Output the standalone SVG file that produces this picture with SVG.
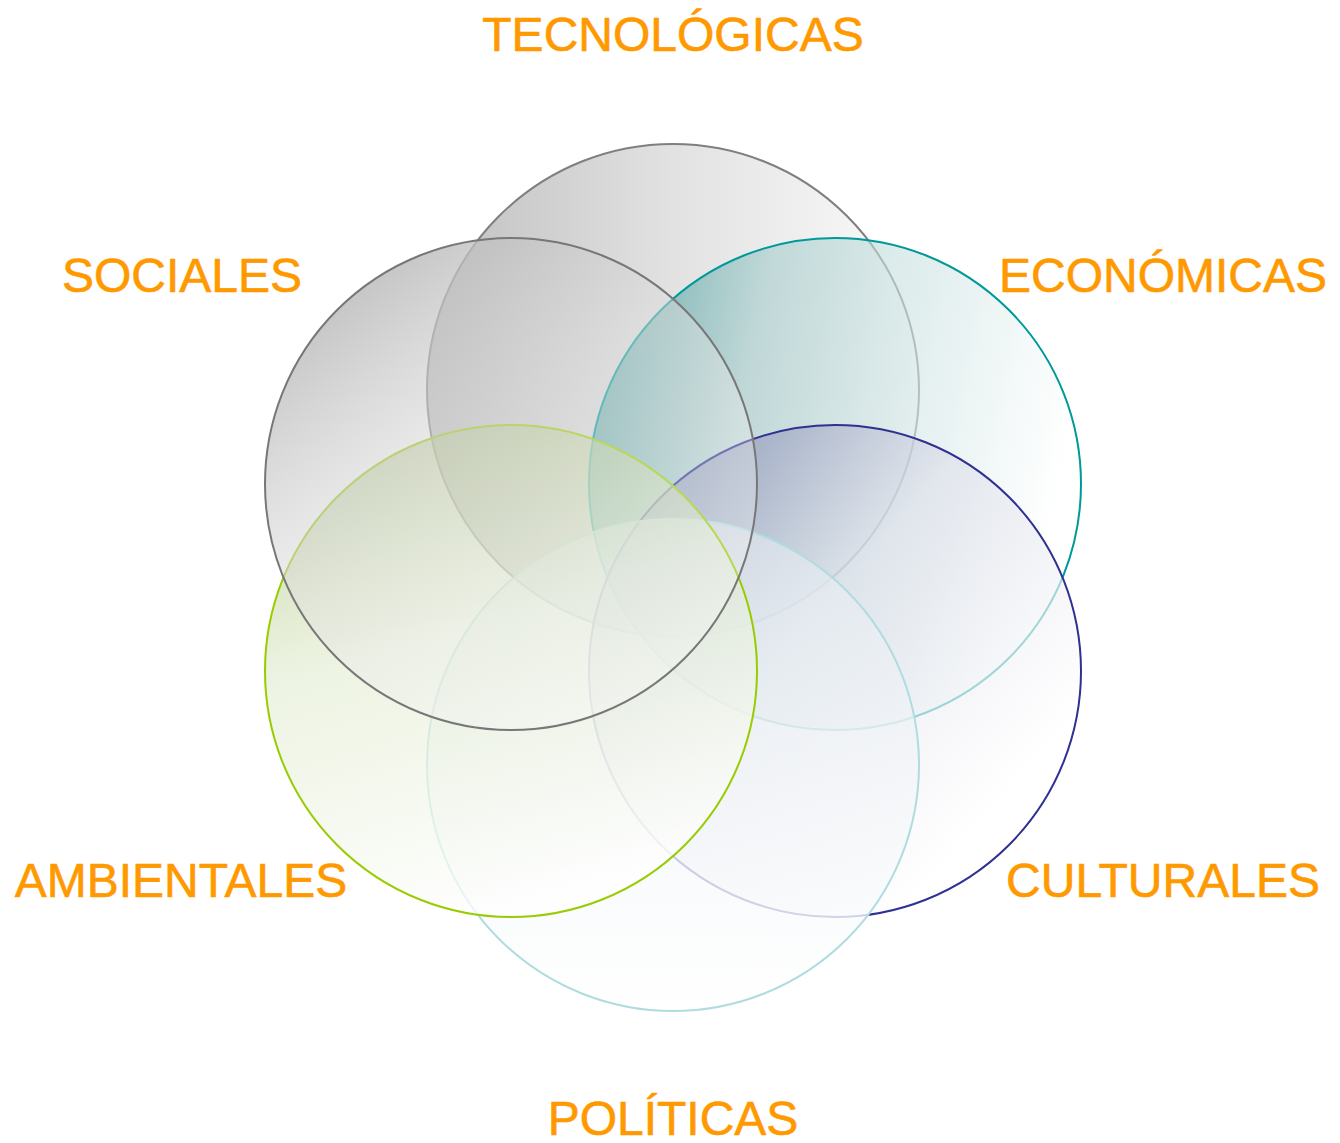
<svg xmlns="http://www.w3.org/2000/svg" width="1340" height="1143" viewBox="0 0 1340 1143">
<defs>
<linearGradient id="gTec" x1="0" y1="0" x2="1" y2="0">
<stop offset="0" stop-color="#bfbfbf"/>
<stop offset="0.5" stop-color="#e2e2e2"/>
<stop offset="1" stop-color="#fbfbfb"/>
</linearGradient>
<linearGradient id="gEco" x1="0" y1="0.1" x2="1" y2="0.3">
<stop offset="0" stop-color="#2f9090" stop-opacity="0.7"/>
<stop offset="0.35" stop-color="#a6cccc" stop-opacity="0.6"/>
<stop offset="1" stop-color="#ffffff" stop-opacity="0.65"/>
</linearGradient>
<linearGradient id="gCul" x1="0.05" y1="0.05" x2="0.85" y2="0.75">
<stop offset="0" stop-color="#6b71a3" stop-opacity="0.65"/>
<stop offset="0.5" stop-color="#dcdee9" stop-opacity="0.6"/>
<stop offset="1" stop-color="#ffffff" stop-opacity="0.7"/>
</linearGradient>
<linearGradient id="gPol" x1="0" y1="0" x2="0" y2="1">
<stop offset="0" stop-color="#e4eaf0" stop-opacity="0.6"/>
<stop offset="1" stop-color="#ffffff" stop-opacity="0.85"/>
</linearGradient>
<linearGradient id="gAmb" x1="0.15" y1="0" x2="0.45" y2="1">
<stop offset="0" stop-color="#a6bf72" stop-opacity="0.65"/>
<stop offset="0.45" stop-color="#e2ecd0" stop-opacity="0.6"/>
<stop offset="1" stop-color="#ffffff" stop-opacity="0.75"/>
</linearGradient>
<linearGradient id="gSoc" x1="0.15" y1="0.1" x2="0.8" y2="0.95">
<stop offset="0" stop-color="#b8b8b8" stop-opacity="0.85"/>
<stop offset="0.45" stop-color="#e0e0e0" stop-opacity="0.45"/>
<stop offset="1" stop-color="#ffffff" stop-opacity="0.25"/>
</linearGradient>
</defs>
<style>
.c{stroke-width:2}
.lbl{font-family:"Liberation Sans",Arial,sans-serif;font-size:48px;fill:#FF9900;stroke:#FF9900;stroke-width:0.6;text-anchor:middle}
</style>
<rect width="1340" height="1143" fill="#ffffff"/>
<g id="tecnologicas"><circle class="c" cx="673" cy="390" r="246" fill="url(#gTec)" stroke="#7f7f7f"/></g>
<g id="economicas"><circle class="c" cx="835" cy="484" r="246" fill="url(#gEco)" stroke="#009999"/></g>
<g id="culturales"><circle class="c" cx="835" cy="671" r="246" fill="url(#gCul)" stroke="#2e3192"/></g>
<g id="politicas"><circle class="c" cx="673" cy="765" r="246" fill="url(#gPol)" stroke="#b0dce0"/></g>
<g id="ambientales"><circle class="c" cx="511" cy="671" r="246" fill="url(#gAmb)" stroke="#99cc00"/></g>
<g id="sociales"><circle class="c" cx="511" cy="484" r="246" fill="url(#gSoc)" stroke="#777777"/></g>
<g id="labels">
<text class="lbl" x="673" y="51">TECNOLÓGICAS</text>
<text class="lbl" x="182" y="292">SOCIALES</text>
<text class="lbl" x="1163" y="292">ECONÓMICAS</text>
<text class="lbl" x="181" y="897">AMBIENTALES</text>
<text class="lbl" x="1163" y="897">CULTURALES</text>
<text class="lbl" x="673" y="1135">POLÍTICAS</text>
</g>
</svg>
